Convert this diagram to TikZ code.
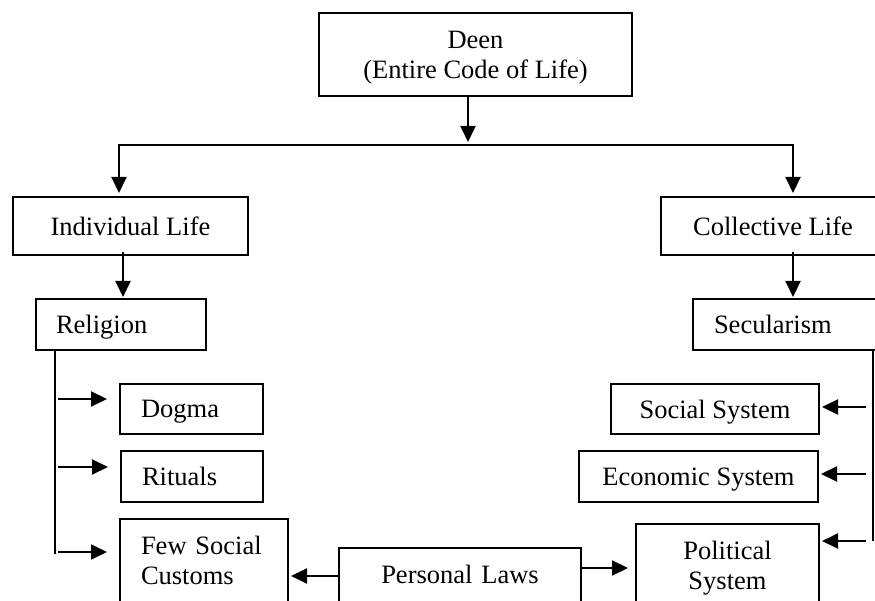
\documentclass[tikz,border=0pt]{standalone}
\usepackage{fontspec}
\setmainfont{Liberation Serif}
\usetikzlibrary{arrows.meta}
\usetikzlibrary{calc}

\begin{document}
\begin{tikzpicture}[x=1pt,y=-1pt,
    every node/.style={font=\fontsize{26.5}{30}\selectfont},
    box/.style={draw,line width=2pt,anchor=north west,inner sep=0pt,text depth=0pt},
    cbox/.style={box,align=center},
    lbox/.style={box,align=left,inner xsep=21pt},
    tallbox/.style={draw,line width=2pt,anchor=north west,inner xsep=21pt,inner ysep=17pt,text depth=60pt},
    line/.style={draw,line width=2pt},
    link/.style={line,-{Triangle[length=16pt,width=15pt]}}]

  \path [use as bounding box,clip] (0,0) rectangle (875,601);

  \node [cbox,minimum width=313pt,minimum height=83pt] (deen) at (318,12) {Deen\\(Entire Code of Life)};

  \node [cbox,minimum width=235pt,minimum height=58pt] (indiv) at (12,196) {Individual Life};
  \node [cbox,minimum width=224pt,minimum height=58pt] (coll)  at (660,196) {Collective Life};

  \node [lbox,text width=130pt,minimum height=51pt,inner xsep=20pt] (relig) at (35,298) {Religion};
  \node [lbox,text width=156pt,minimum height=51pt] (secul) at (692,298) {Secularism};

  \node [lbox,text width=101pt,minimum height=50pt] (dogma)   at (119,383) {Dogma};
  \node [lbox,text width=100pt,minimum height=51pt] (rituals) at (120,450) {Rituals};
  \node [tallbox,text width=126pt,align=left] (custom) at (119,518) {Few Social\\Customs};

  \node [cbox,minimum width=208pt,minimum height=50pt] (social) at (610,383) {Social System};
  \node [cbox,minimum width=239pt,minimum height=51pt] (econ)   at (578,450) {Economic System};
  \node [tallbox,text width=141pt,align=center] (polit) at (635,523) {Political\\System};

  \node [tallbox,text width=200pt,align=center] (personal) at (338,547) {Personal Laws};

  % top split
  \coordinate (split) at (468,145);
  \coordinate (lturn) at (119,145);
  \coordinate (rturn) at (793,145);
  \draw [link,shorten >=3pt] (deen.south -| split) -- (split);
  \draw [link,shorten >=3pt] (split) -- (lturn) -- (indiv.north -| lturn);
  \draw [link,shorten >=3pt] (split) -- (rturn) -- (coll.north -| rturn);

  \coordinate (ldrop) at (123,0);
  \draw [link,shorten <=-4pt,shorten >=1pt] (indiv.south -| ldrop) -- (relig.north -| ldrop);
  \draw [link,shorten <=-4pt,shorten >=1pt] (coll.south -| rturn) -- (secul.north -| rturn);

  % religion side
  \coordinate (lbus) at (55,0);
  \foreach \t/\d in {dogma/16,rituals/17,custom/34} {
    \coordinate (\t-in) at ($(\t.north west)+(0,\d)$);
    \draw [link,shorten <=3pt,shorten >=12pt] (lbus |- \t-in) -- (\t-in);
  }
  \draw [line] (relig.south -| lbus) -- ($(lbus |- custom-in)+(0,2)$);

  % secularism side
  \coordinate (rbus) at (873,0);
  \foreach \t/\d in {social/24,econ/24,polit/18} {
    \coordinate (\t-in) at ($(\t.north east)+(0,\d)$);
    \draw [link,shorten <=7pt,shorten >=2pt] (rbus |- \t-in) -- (\t-in);
  }
  \draw [line] (secul.south -| rbus) -- (rbus |- polit-in);

  % personal laws
  \coordinate (pl-l) at ($(personal.north west)+(0,29)$);
  \coordinate (pl-r) at ($(personal.north east)+(0,21)$);
  \draw [link,shorten >=2pt] (pl-l) -- (custom.east |- pl-l);
  \draw [link,shorten >=7pt] (pl-r) -- (polit.west |- pl-r);

\end{tikzpicture}
\end{document}
